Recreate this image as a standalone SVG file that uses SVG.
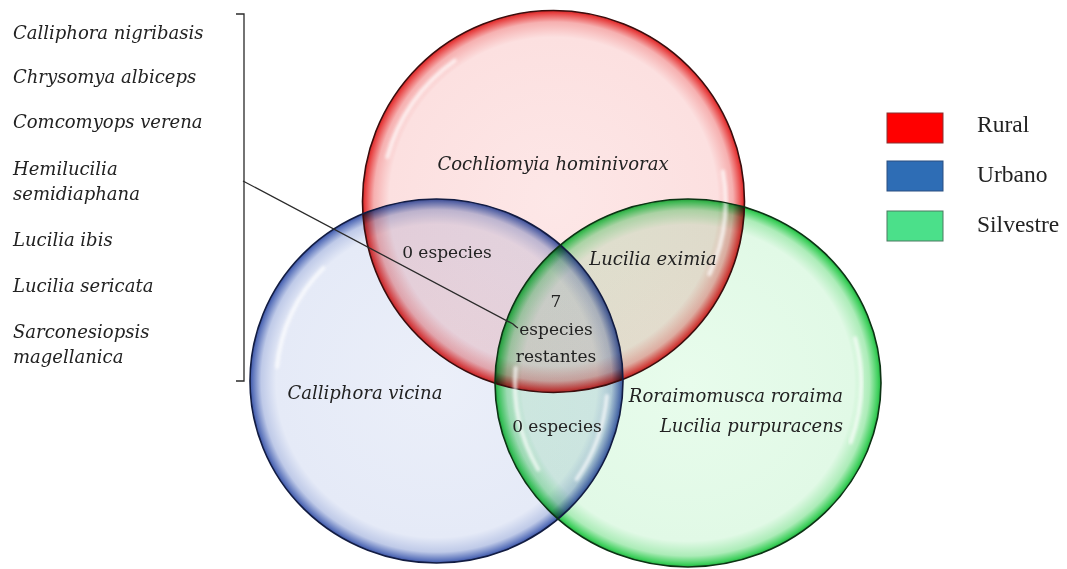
<svg xmlns="http://www.w3.org/2000/svg" width="1067" height="569" viewBox="0 0 1067 569">
<style>
.it{font-family:"DejaVu Serif","Liberation Serif",serif;font-style:italic;font-size:18px;fill:#222}
.up{font-family:"DejaVu Serif","Liberation Serif",serif;font-size:17px;fill:#222}
.lg{font-family:"Liberation Serif","Times New Roman",serif;font-size:23.5px;fill:#222}
.fill{mix-blend-mode:multiply}
.hl{fill:none;stroke:#fff;stroke-width:4;stroke-linecap:round;opacity:0.7;filter:url(#blur)}
.edge{fill:none;stroke-width:1.6}
.conn{fill:none;stroke:#2a2a2a;stroke-width:1.3}
</style>
<defs>
<filter id="blur" x="-20%" y="-20%" width="140%" height="140%"><feGaussianBlur stdDeviation="1.8"/></filter>
<radialGradient id="gr">
<stop offset="0" stop-color="#fde7e7"/><stop offset="0.86" stop-color="#fce0e0"/><stop offset="0.94" stop-color="#f6b0b0"/><stop offset="0.985" stop-color="#e84545"/><stop offset="1" stop-color="#d42424"/>
</radialGradient>
<radialGradient id="gb">
<stop offset="0" stop-color="#ebeff9"/><stop offset="0.86" stop-color="#e5eaf7"/><stop offset="0.94" stop-color="#bfcae8"/><stop offset="0.985" stop-color="#5d75bc"/><stop offset="1" stop-color="#3a52a4"/>
</radialGradient>
<radialGradient id="gg">
<stop offset="0" stop-color="#e8fcec"/><stop offset="0.86" stop-color="#e1f9e6"/><stop offset="0.94" stop-color="#acecb8"/><stop offset="0.985" stop-color="#40d05e"/><stop offset="1" stop-color="#22b040"/>
</radialGradient>
</defs>
<rect width="1067" height="569" fill="#fff"/>

<g id="circle-fills" style="isolation:isolate">
<circle class="fill" cx="553.5" cy="201.5" r="191" fill="url(#gr)"/>
<ellipse class="fill" cx="436.5" cy="381" rx="186.5" ry="182" fill="url(#gb)"/>
<ellipse class="fill" cx="688" cy="383" rx="193" ry="184" fill="url(#gg)"/>
</g>

<g id="rural">
<circle class="edge" cx="553.5" cy="201.5" r="191" stroke="#3a0d0d"/>
<path class="hl" d="M387.4 157 A172 172 0 0 1 454.8 60.6"/>
<path class="hl" d="M722.9 171.6 A172 172 0 0 1 709.4 274.2"/>
<text class="it" x="553" y="170" text-anchor="middle">Cochliomyia hominivorax</text>
</g>

<g id="urbano">
<ellipse class="edge" cx="436.5" cy="381" rx="186.5" ry="182" stroke="#121c42"/>
<path class="hl" d="M277.1 367 A160 160 0 0 1 323.4 267.9"/>
<path class="hl" d="M606.9 395.9 A171 171 0 0 1 576.6 479.1"/>
<text class="it" x="365" y="399" text-anchor="middle">Calliphora vicina</text>
</g>

<g id="silvestre">
<ellipse class="edge" cx="688" cy="383" rx="193" ry="184" stroke="#0c3314"/>
<path class="hl" d="M538.2 469.5 A173 173 0 0 1 515.7 367.9"/>
<path class="hl" d="M855.1 338.2 A173 173 0 0 1 850.6 442.2"/>
<text class="it" x="843" y="402" text-anchor="end">Roraimomusca roraima</text>
<text class="it" x="843" y="432" text-anchor="end">Lucilia purpuracens</text>
</g>

<g id="rural-urbano">
<text class="up" x="447" y="258" text-anchor="middle">0 especies</text>
</g>
<g id="rural-silvestre">
<text class="it" x="653" y="265" text-anchor="middle">Lucilia eximia</text>
</g>
<g id="urbano-silvestre">
<text class="up" x="557" y="432" text-anchor="middle">0 especies</text>
</g>
<g id="all-three">
<text class="up" x="556" y="307" text-anchor="middle">7</text>
<text class="up" x="556" y="335" text-anchor="middle">especies</text>
<text class="up" x="556" y="362" text-anchor="middle">restantes</text>
</g>

<g id="species-list">
<text class="it" x="13" y="39">Calliphora nigribasis</text>
<text class="it" x="13" y="83">Chrysomya albiceps</text>
<text class="it" x="13" y="128">Comcomyops verena</text>
<text class="it" x="13" y="175">Hemilucilia</text>
<text class="it" x="13" y="200">semidiaphana</text>
<text class="it" x="13" y="246">Lucilia ibis</text>
<text class="it" x="13" y="292">Lucilia sericata</text>
<text class="it" x="13" y="338">Sarconesiopsis</text>
<text class="it" x="13" y="363">magellanica</text>
</g>

<g id="legend">
<g id="legend-rural"><rect x="887" y="113" width="56" height="30" fill="#ff0000" stroke="#8a3030" stroke-width="1"/><text class="lg" x="977" y="132">Rural</text></g>
<g id="legend-urbano"><rect x="887" y="161" width="56" height="30" fill="#2e6db5" stroke="#2a4f80" stroke-width="1"/><text class="lg" x="977" y="182">Urbano</text></g>
<g id="legend-silvestre"><rect x="887" y="211" width="56" height="30" fill="#4be08a" stroke="#4a7a60" stroke-width="1"/><text class="lg" x="977" y="232">Silvestre</text></g>
</g>

<g id="connectors">
<path class="conn" d="M236 14 H244 V381 H236"/>
<path class="conn" d="M243 181 L513 324 Q516 327 518 328"/>
</g>
</svg>
